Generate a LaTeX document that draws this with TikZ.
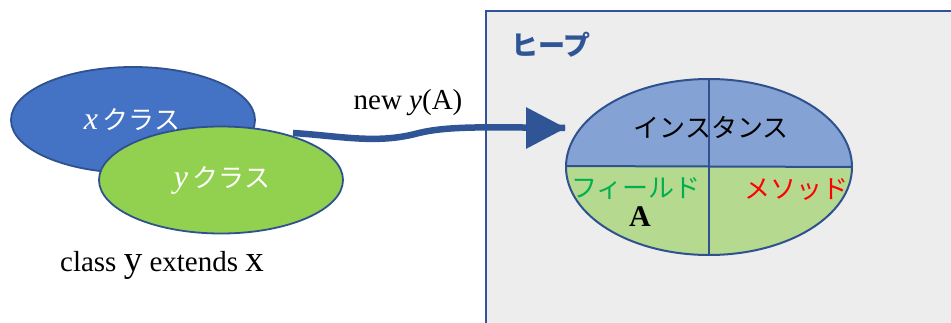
\documentclass[tikz,border=0pt]{standalone}
\usepackage{fontspec}
\setmainfont{Liberation Serif}
\newfontfamily\jp{Noto Sans CJK JP}
\usetikzlibrary{shapes.geometric,arrows.meta}
\definecolor{heapline}{HTML}{2F5597}
\definecolor{heapfill}{HTML}{EDEDED}
\definecolor{xfill}{HTML}{4472C4}
\definecolor{yfill}{HTML}{92D050}
\definecolor{ellline}{HTML}{2F528F}
\definecolor{insttop}{HTML}{85A2D4}
\definecolor{instbot}{HTML}{B5D98E}
\definecolor{fieldgreen}{HTML}{00B050}
\tikzset{
  classell/.style={ellipse, draw=ellline, line width=1.8pt, inner sep=0pt},
  jplabel/.style={font=\jp\fontsize{26}{28}\selectfont, inner sep=0pt},
  latlabel/.style={font=\fontsize{29}{31}\selectfont, inner sep=0pt},
}
\begin{document}
\begin{tikzpicture}[x=1pt,y=-1pt]
\useasboundingbox (0,0) rectangle (951,323);
% heap
\fill[heapfill] (486,11) rectangle (951,323);
\draw[heapline, line width=2pt] (486,323) -- (486,11) -- (951,11);
\node[font=\jp\bfseries\fontsize{27}{29}\selectfont, text=heapline, inner sep=0pt] (heap) at (551,45) {ヒープ};
% classes
\node[classell, fill=xfill, minimum width=244pt, minimum height=106pt] (xc) at (133,120) {};
\node[classell, fill=yfill, minimum width=244pt, minimum height=107pt] (yc) at (221,180) {};
\node[jplabel, text=white] (xt) at (132,120) {{\fontspec{Liberation Serif}\itshape\fontsize{32}{32}\selectfont x}\,クラス};
\node[jplabel, text=white] (yt) at (222,180) {{\fontspec{Liberation Serif}\itshape\fontsize{32}{32}\selectfont y}\,クラス};
\node[latlabel] (ext) at (162,265) {class {\fontsize{37}{38}\selectfont y} extends {\fontsize{37}{38}\selectfont x}};
% instance
\coordinate (ic) at (709,167);
\begin{scope}
  \clip (ic) ellipse [x radius=143pt, y radius=88pt];
  \fill[insttop] (560,70) rectangle (860,167);
  \fill[instbot] (560,167) rectangle (860,260);
  \draw[ellline, line width=2pt] (560,166) -- (860,167);
  \draw[ellline, line width=2pt] (709,70) -- (709,260);
\end{scope}
\node[ellipse, draw=ellline, line width=2pt, minimum width=286pt, minimum height=176pt, inner sep=0pt] (inst) at (ic) {};
\node[jplabel] (it) at (711,127) {インスタンス};
\node[jplabel, text=fieldgreen] (ft) at (636,189) {フィールド};
\node[latlabel, font=\bfseries\fontsize{30}{32}\selectfont] (fa) at (640,217) {A};
\node[jplabel, text=red] (mt) at (796,189) {メソッド};
% arrow
\coordinate (s) at (293,133);
\draw[heapline, line width=6.5pt, -{Triangle[length=40pt,width=40pt]}]
  (s) .. controls (340,136) and (375,144) .. (415,134)
      .. controls (445,126) and (480,127) .. (inst.west |- 0,128) -- (566,128);
\node[latlabel] (nl) at (408,103) {new \textit{y}(A)};
\end{tikzpicture}
\end{document}
